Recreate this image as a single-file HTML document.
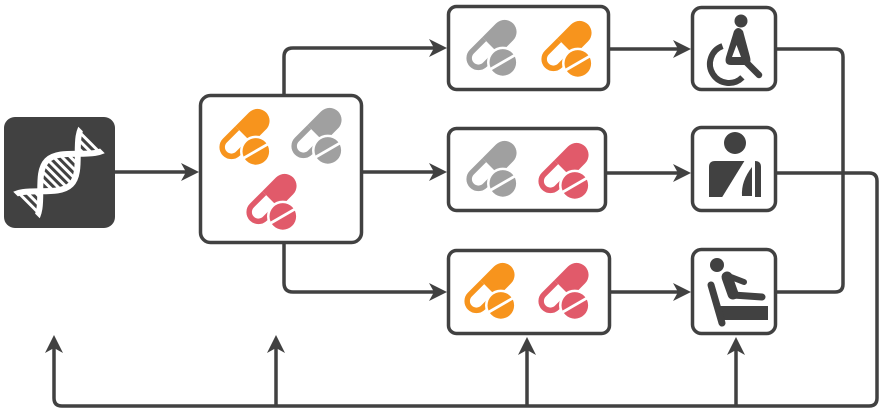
<!DOCTYPE html>
<html><head><meta charset="utf-8"><style>
html,body{margin:0;padding:0;background:#fff;}
svg{display:block;}
</style></head><body>
<svg width="886" height="413" viewBox="0 0 886 413" xmlns="http://www.w3.org/2000/svg">
<defs>
  <g id="pill">
    <g transform="translate(27.5,24) rotate(-45)">
      <path d="M-1,-12 H18.5 A12,12 0 0 1 18.5,12 H-1 Z" fill="currentColor"/>
      <path d="M-1,-9.25 H-18.5 A9.25,9.25 0 0 0 -18.5,9.25 H-1" fill="none" stroke="currentColor" stroke-width="5.5"/>
      <circle cx="-4.3" cy="20.3" r="15.8" fill="#fff"/>
      <circle cx="-4.3" cy="20.3" r="13.3" fill="currentColor"/>
    </g>
    <line x1="26" y1="48.5" x2="51.6" y2="33.7" stroke="#fff" stroke-width="2.8"/>
  </g>
  <clipPath id="dnaclip"><rect x="-46" y="-26" width="92" height="52"/></clipPath>
  <clipPath id="dnainner"><path clip-rule="evenodd" d="M-106,17 C-87,17 -72,-17 -53,-17 C-34,-17 -19,17 0,17 C19,17 34,-17 53,-17 C72,-17 87,17 106,17 L106,-17 C87,-17 72,17 53,17 C34,17 19,-17 0,-17 C-19,-17 -34,17 -53,17 C-72,17 -87,-17 -106,-17 Z"/></clipPath>
</defs>

<!-- DNA box -->
<rect x="4" y="117" width="111" height="111" rx="11" fill="#414141"/>
<g transform="translate(59,172.5) rotate(-45)">
  <g clip-path="url(#dnaclip)">
    <g clip-path="url(#dnainner)" stroke="#fff" stroke-width="3">
      <line x1="-43" y1="-22" x2="-43" y2="22"/>
      <line x1="-37" y1="-22" x2="-37" y2="22"/>
      <line x1="-31" y1="-22" x2="-31" y2="22"/>
      <line x1="-17" y1="-22" x2="-17" y2="22"/>
      <line x1="-11" y1="-22" x2="-11" y2="22"/>
      <line x1="-5" y1="-22" x2="-5" y2="22"/>
      <line x1="1" y1="-22" x2="1" y2="22"/>
      <line x1="7" y1="-22" x2="7" y2="22"/>
      <line x1="13" y1="-22" x2="13" y2="22"/>
      <line x1="19" y1="-22" x2="19" y2="22"/>
      <line x1="31" y1="-22" x2="31" y2="22"/>
      <line x1="37" y1="-22" x2="37" y2="22"/>
      <line x1="43" y1="-22" x2="43" y2="22"/>
    </g>
    <path d="M-106,17 C-87,17 -72,-17 -53,-17 C-34,-17 -19,17 0,17 C19,17 34,-17 53,-17 C72,-17 87,17 106,17" fill="none" stroke="#fff" stroke-width="6"/>
    <path d="M-106,-17 C-87,-17 -72,17 -53,17 C-34,17 -19,-17 0,-17 C19,-17 34,17 53,17 C72,17 87,-17 106,-17" fill="none" stroke="#fff" stroke-width="6"/>
  </g>
</g>

<!-- connectors -->
<g fill="none" stroke="#414141" stroke-width="3.5">
  <path d="M115,172 H186"/>
  <path d="M284,94 V57 Q284,48 293,48 H434"/>
  <path d="M363,172 H434"/>
  <path d="M284,244 V283 Q284,292 293,292 H434"/>
  <path d="M610,49 H678"/>
  <path d="M607,173 H678"/>
  <path d="M611,292 H678"/>
  <path d="M777,49 H835 Q843,49 843,57 V284 Q843,292 835,292 H777"/>
  <path d="M777,173 H869 Q877,173 877,181 V398 Q877,406 869,406 H62 Q54,406 54,398 V346"/>
  <path d="M276,406 V346"/>
  <path d="M527,406 V348"/>
  <path d="M736,406 V348"/>
</g>
<g fill="#414141">
  <path d="M199,172 L181,163 L186,172 L181,181 Z"/>
  <path d="M447,48 L429,39 L434,48 L429,57 Z"/>
  <path d="M447,172 L429,163 L434,172 L429,181 Z"/>
  <path d="M447,292 L429,283 L434,292 L429,301 Z"/>
  <path d="M691,49 L673,40 L678,49 L673,58 Z"/>
  <path d="M691,173 L673,164 L678,173 L673,182 Z"/>
  <path d="M691,292 L673,283 L678,292 L673,301 Z"/>
  <path d="M54,335 L45,353 L54,348 L63,353 Z"/>
  <path d="M276,335 L267,353 L276,348 L285,353 Z"/>
  <path d="M527,337 L518,355 L527,350 L536,355 Z"/>
  <path d="M736,337 L727,355 L736,350 L745,355 Z"/>
</g>

<!-- boxes -->
<g fill="#fff" stroke="#414141" stroke-width="3.5">
  <rect x="200.5" y="95.5" width="161" height="147" rx="10"/>
  <rect x="448.5" y="6.5" width="160" height="83" rx="8"/>
  <rect x="448.5" y="128.5" width="157" height="82" rx="8"/>
  <rect x="448.5" y="250.5" width="161" height="83" rx="8"/>
  <rect x="692.5" y="7.5" width="83" height="82" rx="9"/>
  <rect x="692.5" y="127.5" width="83" height="83" rx="9"/>
  <rect x="692.5" y="249.5" width="83" height="84" rx="9"/>
</g>

<!-- pills -->
<use href="#pill" x="217" y="110" style="color:#F7941D"/>
<use href="#pill" x="289" y="109" style="color:#A0A0A0"/>
<use href="#pill" x="244" y="175" style="color:#E15A6A"/>
<use href="#pill" x="464" y="21" style="color:#A0A0A0"/>
<use href="#pill" x="539" y="22" style="color:#F7941D"/>
<use href="#pill" x="464" y="142" style="color:#A0A0A0"/>
<use href="#pill" x="536" y="144" style="color:#E15A6A"/>
<use href="#pill" x="462" y="264" style="color:#F7941D"/>
<use href="#pill" x="536" y="264" style="color:#E15A6A"/>

<!-- wheelchair icon -->
<g fill="#414141">
  <circle cx="741" cy="21" r="6.5"/>
  <path d="M734,31 Q738,25 743,31 L750,57 Q752,65 745,65 L731,65 Q724,65 726,57 Z"/>
  <path d="M736.5,45 L741,57 L732,57 Z" fill="#fff"/>
</g>
<g fill="none" stroke="#414141">
  <line x1="746" y1="62" x2="759" y2="75" stroke-width="6.5" stroke-linecap="round"/>
  <path d="M722.5,46.1 A19,19 0 1 0 742.4,77.4" stroke-width="6"/>
</g>

<!-- sling icon -->
<g fill="#414141">
  <circle cx="735" cy="143" r="11"/>
  <path d="M709,167 Q709,161 715,161 H755 Q761,161 761,167 V197 H709 Z"/>
  <path d="M745,160 L755,160 L755,199 L721,199 Z" fill="#fff"/>
  <path d="M752,167 Q741,181 742,196 L752,196 Z"/>
</g>

<!-- seat icon -->
<g fill="#414141">
  <circle cx="717" cy="265" r="7"/>
  <path d="M716,306 L768,306 L768,320 L721,320 Z"/>
</g>
<g fill="none" stroke="#414141" stroke-linecap="round">
  <line x1="727" y1="277" x2="733" y2="294" stroke-width="11"/>
  <line x1="731" y1="277" x2="744" y2="282" stroke-width="6"/>
  <line x1="733" y1="295" x2="762" y2="297" stroke-width="7"/>
  <line x1="711" y1="285" x2="722" y2="323" stroke-width="7"/>
</g>
</svg>
</body></html>
